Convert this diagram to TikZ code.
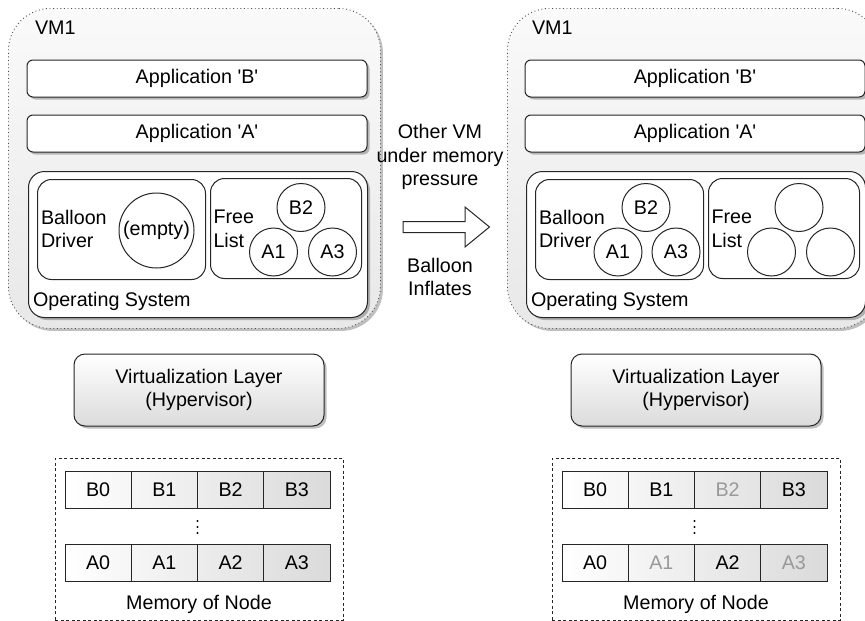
\documentclass[tikz,border=0pt]{standalone}
\usepackage{fontspec}
\setmainfont{Liberation Sans}
\usetikzlibrary{shadows}
\begin{document}
\begin{tikzpicture}[x=1pt, y=-1pt,
  lbl/.style={font=\fontsize{19.7}{23.7}\selectfont, inner sep=0pt, outer sep=0pt},
  softshadow/.style={drop shadow={shadow xshift=2.5pt, shadow yshift=-2.5pt, opacity=0.25, fill=black}},
  vmbox/.style={draw=black!70, line width=0.9pt, dash pattern=on 0.9pt off 2.7pt, rounded corners=42pt,
    top color=black!2, bottom color=black!9, softshadow, minimum width=372pt, minimum height=320pt,
    anchor=north west, inner sep=0pt},
  appbox/.style={lbl, draw=black!85, line width=1pt, fill=white, rounded corners=6pt, softshadow,
    minimum width=340pt, minimum height=37pt},
  osbox/.style={draw=black!85, line width=1pt, fill=white, rounded corners=16pt, softshadow,
    minimum width=339pt, minimum height=146pt, anchor=north west, inner sep=0pt},
  panel/.style={draw=black!85, line width=1pt, fill=white, rounded corners=14pt,
    minimum height=100pt, anchor=north west, inner sep=0pt},
  page/.style={lbl, circle, draw=black!85, line width=1pt, fill=white, minimum size=48pt},
  hvbox/.style={lbl, draw=black!85, line width=1pt, rounded corners=11pt, top color=white,
    bottom color=black!14, softshadow, minimum width=250pt, minimum height=72pt, align=center},
  membox/.style={draw=black!85, line width=0.9pt, dash pattern=on 3pt off 2.5pt,
    minimum width=288pt, minimum height=162pt, anchor=north west, inner sep=0pt},
  cell/.style={lbl, draw=black!85, line width=1pt, minimum width=66.25pt, minimum height=37pt},
  faded/.style={text=black!40},
  dot/.style={circle, fill=black, inner sep=0pt, minimum size=2.3pt},
]
\useasboundingbox (0,0) rectangle (865,621);
\clip (0,0) rectangle (865,621);

% ---------- VM before inflation ----------
\node[vmbox] (vmL) at (8,8) {};
\node[lbl, anchor=west] (vmLt) at (35,28) {VM1};
\node[appbox] (appBL) at (197,78.5) {Application \textquotesingle B\textquotesingle};
\node[appbox] (appAL) at (197,133.5) {Application \textquotesingle A\textquotesingle};
\node[osbox] (osL) at (28,171) {};
\node[panel, minimum width=168pt] (bdL) at (37,179) {};
\node[panel, minimum width=151pt] (flL) at (210,178) {};
\node[lbl, anchor=west, align=left] (bdLt) at (41,229) {Balloon\\Driver};
\node[lbl, anchor=west, align=left] (flLt) at (213.5,229) {Free\\List};
\node[page, minimum size=75pt] (emptyL) at (156.5,230.5) {(empty)};
\node[page] (pB2L) at (301,207.5) {B2};
\node[page] (pA1L) at (273.5,252) {A1};
\node[page] (pA3L) at (332.5,252) {A3};
\node[lbl, anchor=west] (osLt) at (33,301.5) {Operating System};

% ---------- VM after inflation ----------
\node[vmbox] (vmR) at (507,8) {};
\node[lbl, anchor=west] (vmRt) at (532,28) {VM1};
\node[appbox] (appBR) at (695,78.5) {Application \textquotesingle B\textquotesingle};
\node[appbox] (appAR) at (695,133.5) {Application \textquotesingle A\textquotesingle};
\node[osbox] (osR) at (526,171) {};
\node[panel, minimum width=168pt] (bdR) at (535,179) {};
\node[panel, minimum width=151pt] (flR) at (708,178) {};
\node[lbl, anchor=west, align=left] (bdRt) at (539,229) {Balloon\\Driver};
\node[lbl, anchor=west, align=left] (flRt) at (711.5,229) {Free\\List};
\node[page] (pB2R) at (646,207.5) {B2};
\node[page] (pA1R) at (618,252) {A1};
\node[page] (pA3R) at (676,252) {A3};
\node[page] (fr1) at (799,207.5) {};
\node[page] (fr2) at (771.5,252) {};
\node[page] (fr3) at (830.5,252) {};
\node[lbl, anchor=west] (osRt) at (531,301.5) {Operating System};

% ---------- transition ----------
\node[lbl, align=center] (why) at (440,157) {Other VM\\under memory\\pressure};
\draw[line width=1pt, draw=black!85, fill=white]
  (403,221.5) -- (465,221.5) -- (465,207) -- (489.5,227) -- (465,247)
  -- (465,232.5) -- (403,232.5) -- cycle;
\node[lbl, align=center] (what) at (440,277) {Balloon\\Inflates};

% ---------- hypervisors ----------
\node[hvbox] (hvL) at (199,390) {Virtualization Layer\\(Hypervisor)};
\node[hvbox] (hvR) at (696,390) {Virtualization Layer\\(Hypervisor)};

% ---------- physical memory ----------
\node[membox] (memL) at (55,458) {};
\node[membox] (memR) at (552,458) {};
\foreach \side/\x in {L/65, R/562} {
  \foreach \i in {0,1,2,3} {
    \pgfmathsetmacro\shadeA{3.6*\i}
    \pgfmathsetmacro\shadeB{3.6*(\i+1)}
    \node[cell, left color=black!\shadeA, right color=black!\shadeB]
      (rb\side\i) at ({\x+33.125+66.25*\i},489.5) {};
    \node[cell, left color=black!\shadeA, right color=black!\shadeB]
      (ra\side\i) at ({\x+33.125+66.25*\i},563) {};
  }
}
% labels of the page frames
\node[lbl] at (rbL0) {B0}; \node[lbl] at (rbL1) {B1};
\node[lbl] at (rbL2) {B2}; \node[lbl] at (rbL3) {B3};
\node[lbl] at (raL0) {A0}; \node[lbl] at (raL1) {A1};
\node[lbl] at (raL2) {A2}; \node[lbl] at (raL3) {A3};
\node[lbl] at (rbR0) {B0}; \node[lbl] at (rbR1) {B1};
\node[lbl, faded] at (rbR2) {B2}; \node[lbl] at (rbR3) {B3};
\node[lbl] at (raR0) {A0}; \node[lbl, faded] at (raR1) {A1};
\node[lbl] at (raR2) {A2}; \node[lbl, faded] at (raR3) {A3};
% vertical ellipsis between the two rows
\foreach \side/\x in {L/197.5, R/694.5} {
  \node[dot] (d1\side) at (\x,521) {};
  \node[dot] (d2\side) at (\x,527) {};
  \node[dot] (d3\side) at (\x,533) {};
}
\node[lbl] (memLt) at (199,604) {Memory of Node};
\node[lbl] (memRt) at (696,604) {Memory of Node};
\end{tikzpicture}
\end{document}
